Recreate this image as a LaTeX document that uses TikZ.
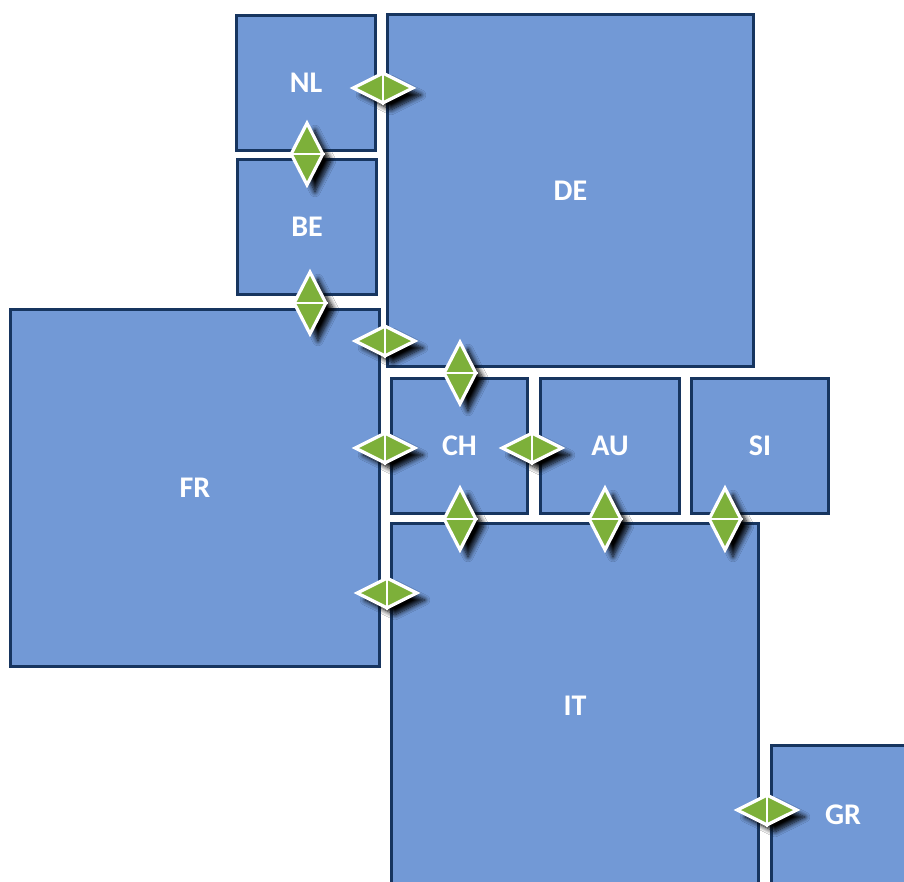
\documentclass[tikz,border=0pt]{standalone}
\usepackage{fontspec}
\setmainfont{Carlito}
\usetikzlibrary{shapes.geometric,shadows.blur}
\definecolor{boxfill}{HTML}{7299D6}
\definecolor{boxline}{HTML}{17355F}
\definecolor{arrgreen}{HTML}{7DB03A}
\begin{document}
\begin{tikzpicture}[x=1pt,y=-1pt,
  box/.style={rectangle, draw=boxline, line width=3pt, fill=boxfill, inner sep=0pt,
    text=white, font=\bfseries\fontsize{30}{30}\selectfont},
  harr/.style={diamond, fill=arrgreen, draw=white, line width=3.2pt, inner sep=0pt,
    minimum width=61pt, minimum height=31pt,
    blur shadow={shadow xshift=8pt, shadow yshift=-7pt, shadow blur radius=5pt, shadow opacity=100, shadow blur steps=8}},
  varr/.style={harr, minimum width=33pt, minimum height=63pt},
  hmid/.style={draw=white, line width=2.2pt},
]
\useasboundingbox (0,0) rectangle (904,881);
\clip (0,0) rectangle (904,881);
\fill[white] (0,0) rectangle (904,881);
% countries
\node[box, minimum width=139pt, minimum height=135pt] (NL) at (306,83) {NL};
\node[box, minimum width=139pt, minimum height=135pt] (BE) at (307,227) {BE};
\node[box, minimum width=366pt, minimum height=352pt] (DE) at (570.5,190.5) {DE};
\node[box, minimum width=369pt, minimum height=357pt] (FR) at (195,488) {FR};
\node[box, minimum width=136pt, minimum height=135pt] (CH) at (459.5,446) {CH};
\node[box, minimum width=139pt, minimum height=135pt] (AU) at (610,446) {AU};
\node[box, minimum width=137pt, minimum height=135pt] (SI) at (760,446) {SI};
\node[box, minimum width=367pt, minimum height=365pt] (IT) at (575,706) {IT};
\node[box, minimum width=143pt, minimum height=139pt] (GR) at (843,815) {GR};
% border arrows
\node[harr] (a1) at (383,88) {};
\draw[hmid] (a1.north) -- (a1.south);
\node[varr] (a2) at (307,154) {};
\draw[hmid] (a2.west) -- (a2.east);
\node[varr] (a3) at (310,303) {};
\draw[hmid] (a3.west) -- (a3.east);
\node[harr] (a4) at (385,341) {};
\draw[hmid] (a4.north) -- (a4.south);
\node[varr] (a5) at (460,373) {};
\draw[hmid] (a5.west) -- (a5.east);
\node[harr] (a6) at (385,448) {};
\draw[hmid] (a6.north) -- (a6.south);
\node[harr] (a7) at (532,448) {};
\draw[hmid] (a7.north) -- (a7.south);
\node[varr] (a8) at (460,519) {};
\draw[hmid] (a8.west) -- (a8.east);
\node[varr] (a9) at (605,519) {};
\draw[hmid] (a9.west) -- (a9.east);
\node[varr] (a10) at (725,519) {};
\draw[hmid] (a10.west) -- (a10.east);
\node[harr] (a11) at (387,593) {};
\draw[hmid] (a11.north) -- (a11.south);
\node[harr] (a12) at (767,810) {};
\draw[hmid] (a12.north) -- (a12.south);
\end{tikzpicture}
\end{document}
